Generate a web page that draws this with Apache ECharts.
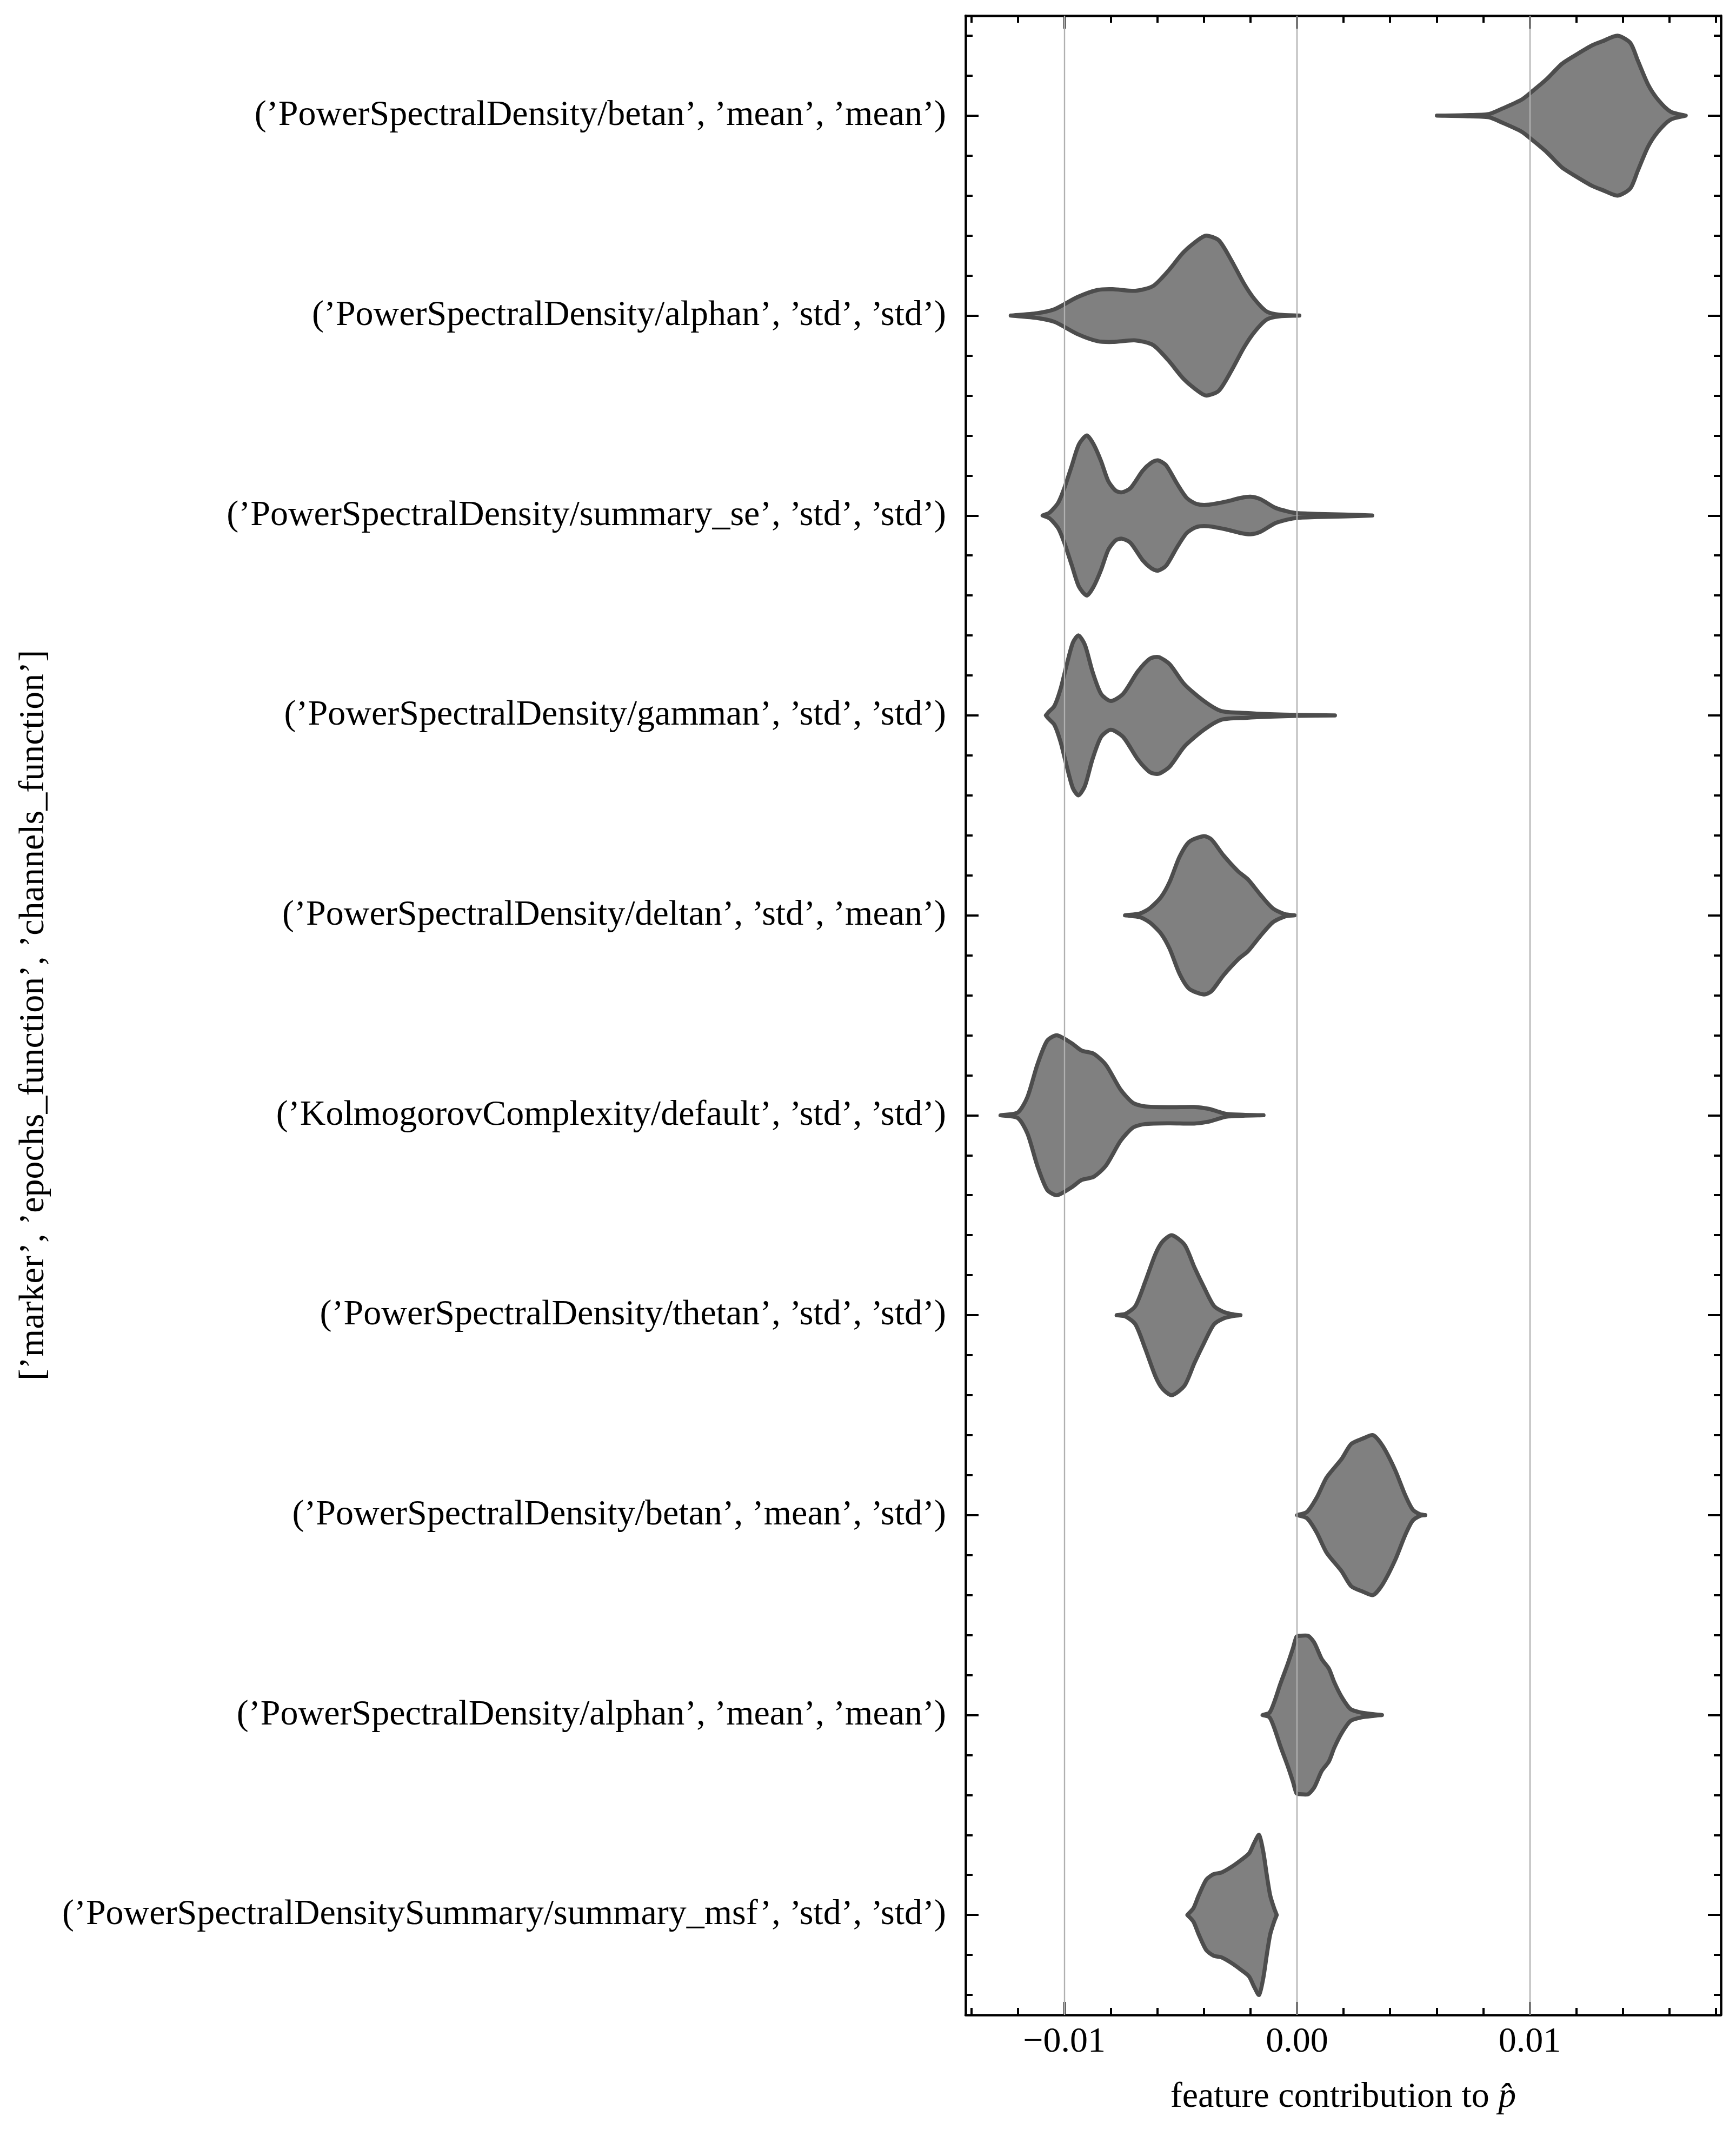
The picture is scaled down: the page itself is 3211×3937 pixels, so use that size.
<!DOCTYPE html>
<html><head><meta charset="utf-8">
<script src="https://cdn.jsdelivr.net/npm/echarts@6/dist/echarts.min.js"></script>
<style>html,body{margin:0;padding:0;background:#fff}#c{width:3211px;height:3937px}</style>
</head><body><div id="c"></div>
<script>
// Categories (top to bottom)
const categories = [
  "(\u2019PowerSpectralDensity/betan\u2019, \u2019mean\u2019, \u2019mean\u2019)",
  "(\u2019PowerSpectralDensity/alphan\u2019, \u2019std\u2019, \u2019std\u2019)",
  "(\u2019PowerSpectralDensity/summary_se\u2019, \u2019std\u2019, \u2019std\u2019)",
  "(\u2019PowerSpectralDensity/gamman\u2019, \u2019std\u2019, \u2019std\u2019)",
  "(\u2019PowerSpectralDensity/deltan\u2019, \u2019std\u2019, \u2019mean\u2019)",
  "(\u2019KolmogorovComplexity/default\u2019, \u2019std\u2019, \u2019std\u2019)",
  "(\u2019PowerSpectralDensity/thetan\u2019, \u2019std\u2019, \u2019std\u2019)",
  "(\u2019PowerSpectralDensity/betan\u2019, \u2019mean\u2019, \u2019std\u2019)",
  "(\u2019PowerSpectralDensity/alphan\u2019, \u2019mean\u2019, \u2019mean\u2019)",
  "(\u2019PowerSpectralDensitySummary/summary_msf\u2019, \u2019std\u2019, \u2019std\u2019)"
];

// Violin density profiles: [feature contribution, relative density (1 = widest)]
const betanMeanMean = [[0.00601,0],[0.0072,0.006],[0.00824,0.02],[0.00879,0.084],[0.00965,0.20],[0.01009,0.30],[0.01074,0.46],[0.01139,0.65],[0.01204,0.77],[0.01269,0.88],[0.01312,0.93],[0.01377,1.0],[0.01432,0.91],[0.01464,0.69],[0.01508,0.39],[0.01551,0.20],[0.01605,0.05],[0.0167,0]];
const alphanStdStd = [[-0.0123,0],[-0.01117,0.03],[-0.01041,0.08],[-0.00944,0.23],[-0.00857,0.32],[-0.00792,0.33],[-0.00694,0.31],[-0.00618,0.37],[-0.00553,0.56],[-0.00488,0.79],[-0.00423,0.95],[-0.0039,1.0],[-0.00336,0.94],[-0.00282,0.69],[-0.00228,0.40],[-0.00184,0.21],[-0.0013,0.05],[-0.00076,0.01],[0.0001,0]];
const summarySeStdStd = [[-0.01093,0],[-0.01063,0.037],[-0.01026,0.16],[-0.01,0.34],[-0.00968,0.62],[-0.00937,0.89],[-0.00903,1.0],[-0.00874,0.89],[-0.00842,0.68],[-0.00811,0.43],[-0.00779,0.31],[-0.00753,0.29],[-0.00716,0.34],[-0.00663,0.56],[-0.00626,0.66],[-0.00598,0.69],[-0.00563,0.63],[-0.00516,0.40],[-0.00474,0.22],[-0.00432,0.144],[-0.00379,0.135],[-0.00305,0.174],[-0.00242,0.22],[-0.002,0.235],[-0.00158,0.205],[-0.00095,0.098],[-0.00042,0.052],[0.0,0.03],[0.00095,0.018],[0.002,0.012],[0.00323,0]];
const gammanStdStd = [[-0.01079,0],[-0.01068,0.04],[-0.01042,0.12],[-0.01016,0.33],[-0.00989,0.64],[-0.00963,0.91],[-0.00939,1.0],[-0.00911,0.88],[-0.00879,0.55],[-0.00842,0.27],[-0.008,0.18],[-0.00747,0.27],[-0.00684,0.55],[-0.00632,0.71],[-0.00595,0.73],[-0.00547,0.64],[-0.00484,0.39],[-0.004,0.18],[-0.00326,0.055],[-0.00221,0.03],[-0.00116,0.015],[0.0,0.006],[0.00163,0]];
const deltanStdMean = [[-0.00739,0],[-0.00674,0.024],[-0.00632,0.09],[-0.00584,0.23],[-0.00547,0.42],[-0.00505,0.73],[-0.00463,0.92],[-0.004,0.99],[-0.00368,0.95],[-0.00316,0.75],[-0.00253,0.55],[-0.00211,0.45],[-0.00158,0.26],[-0.00105,0.09],[-0.00053,0.015],[-0.0001,0]];
const kolmogorovStdStd = [[-0.01274,0],[-0.012,0.034],[-0.01158,0.23],[-0.01116,0.63],[-0.01074,0.93],[-0.01032,1.0],[-0.00968,0.90],[-0.00926,0.81],[-0.00874,0.77],[-0.00821,0.63],[-0.00758,0.32],[-0.00705,0.155],[-0.00653,0.11],[-0.00547,0.10],[-0.00442,0.104],[-0.00379,0.08],[-0.00305,0.018],[-0.00232,0.006],[-0.00144,0]];
const thetanStdStd = [[-0.00775,0],[-0.00736,0.018],[-0.00694,0.116],[-0.00652,0.42],[-0.00609,0.76],[-0.00578,0.92],[-0.00538,1.0],[-0.00483,0.88],[-0.00441,0.60],[-0.00399,0.345],[-0.00357,0.116],[-0.00315,0.04],[-0.00273,0.01],[-0.00243,0]];
const betanMeanStd = [[0.0,0],[0.00043,0.04],[0.00085,0.22],[0.00127,0.47],[0.00191,0.70],[0.00233,0.89],[0.00285,0.96],[0.00327,1.0],[0.00369,0.86],[0.00422,0.56],[0.00464,0.255],[0.00496,0.073],[0.00527,0.012],[0.00551,0]];
const alphanMeanMean = [[-0.00148,0],[-0.00118,0.03],[-0.00095,0.185],[-0.00072,0.386],[-0.00041,0.63],[-0.00018,0.83],[-0.00002,0.98],[0.00013,0.99],[0.00048,0.99],[0.00075,0.90],[0.00106,0.70],[0.00137,0.58],[0.0016,0.41],[0.00191,0.23],[0.0023,0.074],[0.00276,0.03],[0.0033,0.01],[0.00365,0]];
const summaryMsfStdStd = [[-0.00471,0],[-0.00445,0.084],[-0.00423,0.24],[-0.0039,0.44],[-0.00358,0.51],[-0.00325,0.53],[-0.00282,0.60],[-0.00239,0.69],[-0.00206,0.77],[-0.00184,0.90],[-0.00163,1.0],[-0.00145,0.79],[-0.0013,0.50],[-0.00115,0.24],[-0.00098,0.08],[-0.00087,0]];

const violins = [betanMeanMean, alphanStdStd, summarySeStdStd, gammanStdStd, deltanStdMean,
  kolmogorovStdStd, thetanStdStd, betanMeanStd, alphanMeanMean, summaryMsfStdStd];

// Tick values
const xMajorTicks = [-0.01, 0, 0.01];
const xMinorTicks = [-0.014,-0.012,-0.008,-0.006,-0.004,-0.002,0.002,0.004,0.006,0.008,0.012,0.014,0.016,0.018];
const yMajorTicks = [0,1,2,3,4,5,6,7,8,9];
const yMinorOffsets = [-0.4,-0.2,0.2,0.4];
const yMinorTicks = [];
yMajorTicks.forEach(t => yMinorOffsets.forEach(o => yMinorTicks.push(+(t + o).toFixed(2))));

const xLabel = "feature contribution to ";
const yLabel = "[\u2019marker\u2019, \u2019epochs_function\u2019, \u2019channels_function\u2019]";

const FONT = "'Liberation Serif', 'DejaVu Serif', serif";
const FS = 66;
const X_MIN = -0.01424, X_MAX = 0.01821;
const HALF = 0.4;

const chart = echarts.init(document.getElementById('c'), null, {renderer: 'canvas'});

function xAxisBase(pos, ticks, len, showLine, showLabel) {
  return {
    type: 'value', position: pos, min: X_MIN, max: X_MAX,
    axisLine: {show: showLine, onZero: false, lineStyle: {color: '#000', width: 4.5}},
    axisTick: {show: true, inside: true, length: len, customValues: ticks, lineStyle: {color: '#000', width: 4}},
    axisLabel: {show: showLabel, customValues: ticks, margin: 18, fontFamily: FONT, fontSize: FS, color: '#000',
      formatter: v => (v < 0 ? '\u2212' : '') + Math.abs(v).toFixed(2)},
    splitLine: {show: false}
  };
}
function yAxisBase(pos, ticks, len, showLine, showLabel) {
  return {
    type: 'value', position: pos, min: -0.5, max: 9.5, inverse: true,
    axisLine: {show: showLine, onZero: false, lineStyle: {color: '#000', width: 4.5}},
    axisTick: {show: true, inside: true, length: len, customValues: ticks, lineStyle: {color: '#000', width: 4}},
    axisLabel: {show: showLabel, customValues: ticks, margin: 36, fontFamily: FONT, fontSize: FS, color: '#000',
      formatter: v => categories[Math.round(v)]},
    splitLine: {show: false}
  };
}

const xMain = xAxisBase('bottom', xMajorTicks, 24, true, true);
xMain.name = xLabel + '{p|p\u0302}';
xMain.nameLocation = 'middle';
xMain.nameGap = 120;
xMain.nameTextStyle = {fontFamily: FONT, fontSize: FS, color: '#000',
  rich: {p: {fontFamily: FONT, fontSize: FS, fontStyle: 'italic', color: '#000'}}};

const yMain = yAxisBase('left', yMajorTicks, 24, true, true);
yMain.name = yLabel;
yMain.nameLocation = 'middle';
yMain.nameGap = 1690;
yMain.nameTextStyle = {fontFamily: FONT, fontSize: FS, color: '#000'};

const option = {
  backgroundColor: '#fff',
  animation: false,
  grid: {left: 1786, right: 28, top: 29, bottom: 211, containLabel: false},
  xAxis: [
    xMain,
    xAxisBase('bottom', xMinorTicks, 13, false, false),
    xAxisBase('top', xMajorTicks, 24, true, false),
    xAxisBase('top', xMinorTicks, 13, false, false)
  ],
  yAxis: [
    yMain,
    yAxisBase('left', yMinorTicks, 13, false, false),
    yAxisBase('right', yMajorTicks, 24, true, false),
    yAxisBase('right', yMinorTicks, 13, false, false)
  ],
  series: [{
    type: 'custom',
    xAxisIndex: 0, yAxisIndex: 0,
    clip: true,
    data: violins.map((v, i) => [v[0][0], i]),
    renderItem: function (params, api) {
      const i = params.dataIndex;
      const prof = violins[i];
      const pts = [];
      for (let k = 0; k < prof.length; k++) pts.push(api.coord([prof[k][0], i - HALF * prof[k][1]]));
      for (let k = prof.length - 1; k >= 0; k--) pts.push(api.coord([prof[k][0], i + HALF * prof[k][1]]));
      return {
        type: 'polygon',
        shape: {points: pts, smooth: 0.25},
        style: {fill: '#808080', stroke: '#4d4d4d', lineWidth: 7.5, lineJoin: 'round'}
      };
    },
    markLine: {
      silent: true, symbol: 'none', animation: false, z: 10,
      label: {show: false},
      lineStyle: {color: '#b0b0b0', width: 2.4, type: 'solid'},
      data: xMajorTicks.map(v => ({xAxis: v}))
    }
  }]
};
chart.setOption(option);
</script></body></html>
